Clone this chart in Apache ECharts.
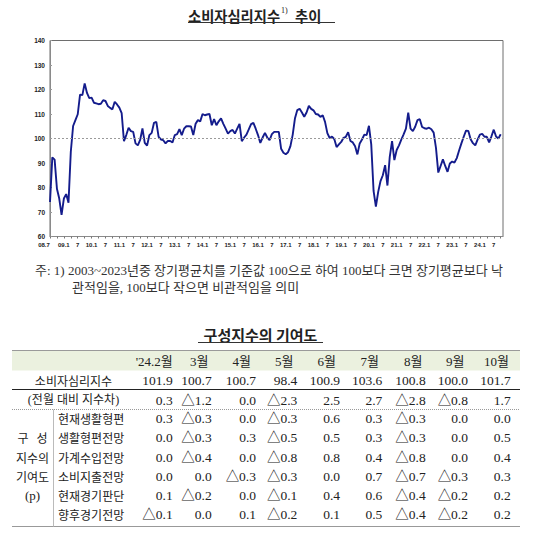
<!DOCTYPE html>
<html><head><meta charset="utf-8">
<script src="https://cdn.jsdelivr.net/npm/echarts@6.0.0/dist/echarts.min.js"></script>
<style>html,body{margin:0;padding:0;background:#fff}#c{width:534px;height:535px}</style>
</head><body><div id="c"></div>
<script>
// ---- monthly consumer sentiment index (2008.7 ~ 2024.10) ----
const y2008 = [74.1, 92.3, 91.4, 79.5, 75.5, 68.8];
const y2009 = [75.5, 77.3, 73.8, 94.6, 105.1, 107.5, 109.9, 117.9, 117.7, 122.5, 118.6, 116.5];
const y2010 = [116.7, 114.6, 114.3, 114.0, 114.2, 115.6, 115.3, 113.3, 112.5, 111.9, 115.0, 113.9];
const y2011 = [112.6, 110.4, 98.9, 101.4, 104.4, 103.0, 102.7, 98.0, 97.2, 99.4, 104.1, 98.2];
const y2012 = [97.1, 101.4, 102.3, 106.4, 106.8, 100.7, 99.6, 99.3, 98.0, 99.0, 99.0, 98.4];
const y2013 = [101.4, 101.8, 103.8, 101.4, 104.0, 105.0, 105.0, 104.9, 101.4, 106.0, 107.5, 107.0];
const y2014 = [110.0, 109.5, 109.8, 110.0, 105.4, 107.9, 105.4, 107.0, 108.2, 106.0, 104.0, 102.0];
const y2015 = [103.0, 103.5, 102.0, 104.0, 106.0, 98.9, 100.4, 101.6, 103.7, 105.9, 106.4, 104.0];
const y2016 = [101.4, 98.2, 100.4, 102.3, 100.4, 99.3, 101.8, 102.7, 102.7, 102.7, 95.8, 94.2];
const y2017 = [93.6, 94.4, 96.8, 101.5, 108.3, 111.6, 112.1, 110.6, 108.9, 110.6, 113.3, 112.1];
const y2018 = [111.5, 110.0, 109.8, 108.8, 109.5, 106.8, 102.2, 100.2, 100.8, 99.8, 96.5, 97.6];
const y2019 = [98.6, 100.3, 100.7, 102.6, 99.0, 98.4, 96.8, 93.5, 98.0, 99.6, 101.6, 101.4];
const y2020 = [105.2, 97.5, 78.6, 72.2, 78.2, 82.6, 85.0, 89.1, 80.8, 92.5, 98.9, 91.2];
const y2021 = [95.3, 97.2, 99.5, 101.7, 104.0, 110.6, 104.0, 103.0, 104.8, 107.5, 107.9, 104.7];
const y2022 = [104.2, 104.0, 104.4, 103.8, 102.4, 96.2, 86.1, 88.8, 91.5, 88.8, 86.4, 89.8];
const y2023 = [90.6, 90.2, 92.0, 95.1, 98.0, 100.7, 103.2, 103.1, 99.7, 98.1, 97.2, 99.5];
const y2024 = [101.6, 101.9, 100.7, 100.7, 98.4, 100.9, 103.6, 100.8, 100.0, 101.7];
const years = [2008,2009,2010,2011,2012,2013,2014,2015,2016,2017,2018,2019,2020,2021,2022,2023,2024];
const yearData = [y2008,y2009,y2010,y2011,y2012,y2013,y2014,y2015,y2016,y2017,y2018,y2019,y2020,y2021,y2022,y2023,y2024];
const firstMonth = 7;
const yTicks = {min: 60, max: 140, interval: 10};

// ---- contribution table ----
const tableMonths = ["'24.2월","3월","4월","5월","6월","7월","8월","9월","10월"];
const csiRow = [101.9, 100.7, 100.7, 98.4, 100.9, 103.6, 100.8, 100.0, 101.7];
const diffRow = [0.3, -1.2, 0.0, -2.3, 2.5, 2.7, -2.8, -0.8, 1.7];
const compNames = ["현재생활형편","생활형편전망","가계수입전망","소비지출전망","현재경기판단","향후경기전망"];
const comp1 = [0.3, -0.3, 0.0, -0.3, 0.6, 0.3, -0.3, 0.0, 0.0];
const comp2 = [0.0, -0.3, 0.3, -0.5, 0.5, 0.3, -0.3, 0.0, 0.5];
const comp3 = [0.0, -0.4, 0.0, -0.8, 0.8, 0.4, -0.8, 0.0, 0.4];
const comp4 = [0.0, 0.0, -0.3, -0.3, 0.0, 0.7, -0.7, -0.3, 0.3];
const comp5 = [0.1, -0.2, 0.0, -0.1, 0.4, 0.6, -0.4, -0.2, 0.2];
const comp6 = [-0.1, 0.0, 0.1, -0.2, 0.1, 0.5, -0.4, -0.2, 0.2];
const compRows = [comp1, comp2, comp3, comp4, comp5, comp6];

// ---- build series / categories ----
const values = [];
const cats = [];
yearData.forEach((arr, k) => {
  const m0 = k === 0 ? firstMonth : 1;
  arr.forEach((v, j) => { values.push(v); cats.push(years[k] + '.' + (m0 + j)); });
});
cats.push('pad');

const INK = '#222';
const KOR = '"Noto Sans CJK KR", sans-serif';
const SER = '"Liberation Serif", "Noto Sans CJK KR", serif';

function txt(x, y, s, font, align, color) {
  return {type: 'text', x: x, y: y, silent: true,
    style: {text: s, font: font, fill: color || INK, align: align || 'left', verticalAlign: 'middle',
            textAlign: align || 'left', textVerticalAlign: 'middle'}};
}
function ln(x1, y1, x2, y2, color, dash, w) {
  return {type: 'line', silent: true, shape: {x1: x1, y1: y1, x2: x2, y2: y2},
    style: {stroke: color, lineWidth: w || 1, lineDash: dash || null}};
}
const fmt = v => v < 0 ? '△' + Math.abs(v).toFixed(1) : v.toFixed(1);

const g = [];
// title
g.push({type: 'text', x: 188, y: 15, silent: true, style: {
  text: '{m|소비자심리지수}{s|1)}{m| 추이}', align: 'left', verticalAlign: 'middle',
  textAlign: 'left', textVerticalAlign: 'middle',
  rich: {
    m: {fontSize: 14.3, fontWeight: 'bold', fontFamily: KOR, fill: INK, color: INK, lineHeight: 18},
    s: {fontSize: 8, fontFamily: SER, fill: INK, color: INK, lineHeight: 9, verticalAlign: 'top', padding: [0, 4, 0, 1]}
  }}});
g.push(ln(188, 22.5, 335, 22.5, '#333'));

// footnote
const FN = '13px ' + SER;
g.push(txt(35, 270, '주: 1) 2003~2023년중 장기평균치를 기준값 100으로 하여 100보다 크면 장기평균보다 낙', FN, 'left', '#333'));
g.push(txt(72, 287, '관적임을, 100보다 작으면 비관적임을 의미', FN, 'left', '#333'));

// subtitle
g.push(txt(260.5, 334, '구성지수의 기여도', 'bold 15px ' + KOR, 'center'));
g.push(ln(198, 342.5, 323, 342.5, '#333'));

// table frame
const TL = 12, TR = 520;
g.push({type: 'rect', silent: true, shape: {x: TL, y: 350.5, width: TR - TL, height: 20}, style: {fill: '#ebf1df'}});
g.push(ln(TL, 350.5, TR, 350.5, '#9a9a9a'));
g.push(ln(TL, 389.5, TR, 389.5, '#222'));
g.push(ln(TL, 409.5, TR, 409.5, '#999', [1, 1]));
g.push(ln(TL, 526.5, TR, 526.5, '#999'));
g.push(ln(53.5, 409.5, 53.5, 526.5, '#bbb'));

const colRight = [172.7, 211.7, 256, 297.3, 340, 382.3, 425.7, 468, 510.7];
const headRight = [172.7, 208.5, 251, 293.5, 336, 379, 422.5, 464.5, 509];
const NUM = '13.5px ' + SER;
const HEAD = '13px ' + SER;
const LAB = '12px ' + KOR;
tableMonths.forEach((m, i) => g.push(txt(headRight[i], 361, m, HEAD, 'right')));
g.push(txt(73.5, 380, '소비자심리지수', LAB, 'center'));
csiRow.forEach((v, i) => g.push(txt(colRight[i], 380, v.toFixed(1), NUM, 'right')));
g.push(txt(73.5, 400, '(전월 대비 지수차)', '12px ' + SER, 'center'));
diffRow.forEach((v, i) => g.push(txt(colRight[i], 400, fmt(v), NUM, 'right')));
const rowY = [418.5, 437.7, 457, 476, 495.3, 514.3];
compNames.forEach((n, r) => {
  g.push(txt(58, rowY[r], n, LAB, 'left'));
  compRows[r].forEach((v, i) => g.push(txt(colRight[i], rowY[r], fmt(v), NUM, 'right')));
});
g.push(txt(32.5, 437.7, '구   성', LAB, 'center'));
g.push(txt(32.5, 457, '지수의', LAB, 'center'));
g.push(txt(32.5, 476, '기여도', LAB, 'center'));
g.push(txt(32.5, 495.3, '(p)', '13px ' + SER, 'center'));

const chart = echarts.init(document.getElementById('c'), null, {renderer: 'svg'});
chart.setOption({
  animation: false,
  backgroundColor: '#fff',
  grid: {left: 50, top: 40.5, width: 453, height: 196, show: true, borderColor: '#6e6e6e', borderWidth: 1, backgroundColor: '#fff', containLabel: false, outerBoundsMode: 'none'},
  xAxis: {
    type: 'category', data: cats, boundaryGap: false,
    axisLine: {lineStyle: {color: '#8a8a8a', width: 1}},
    axisTick: {show: true, interval: 2, length: 2, lineStyle: {color: '#777'}},
    axisLabel: {
      interval: (idx) => idx % 6 === 0, hideOverlap: false, showMinLabel: true,
      margin: 5, fontSize: 6, fontWeight: 'bold', fontFamily: 'Liberation Sans, Arial', color: INK,
      formatter: (val, idx) => {
        if (val === 'pad') return '';
        const p = String(val).split('.');
        const yy = p[0].slice(2);
        if (idx === 0) return '{f|' + yy + '.' + p[1] + '}';
        if (p[1] === '1') return yy + '.1';
        if (p[1] === '7') return '7';
        return '';
      },
      rich: {f: {fontSize: 6, fontWeight: 'bold', fontFamily: 'Liberation Sans, Arial', color: INK, padding: [0, 12, 0, 0]}}
    },
    splitLine: {show: false}
  },
  yAxis: {
    type: 'value', min: yTicks.min, max: yTicks.max, interval: yTicks.interval,
    axisLine: {show: true, lineStyle: {color: '#8a8a8a'}},
    axisTick: {show: true, inside: true, length: 2, lineStyle: {color: '#999'}},
    axisLabel: {margin: 5, fontSize: 6.5, fontWeight: 'bold', fontFamily: 'Liberation Sans, Arial', color: INK},
    splitLine: {show: false}
  },
  series: [{
    type: 'line', data: values, showSymbol: false, symbol: 'none', silent: true,
    lineStyle: {color: '#141c8c', width: 1.9}, itemStyle: {color: '#141c8c'},
    markLine: {silent: true, symbol: 'none', label: {show: false},
      lineStyle: {color: '#9a9a9a', type: [2, 2], width: 1},
      data: [{yAxis: 100}]}
  }],
  graphic: {elements: g}
});
</script>
</body></html>
